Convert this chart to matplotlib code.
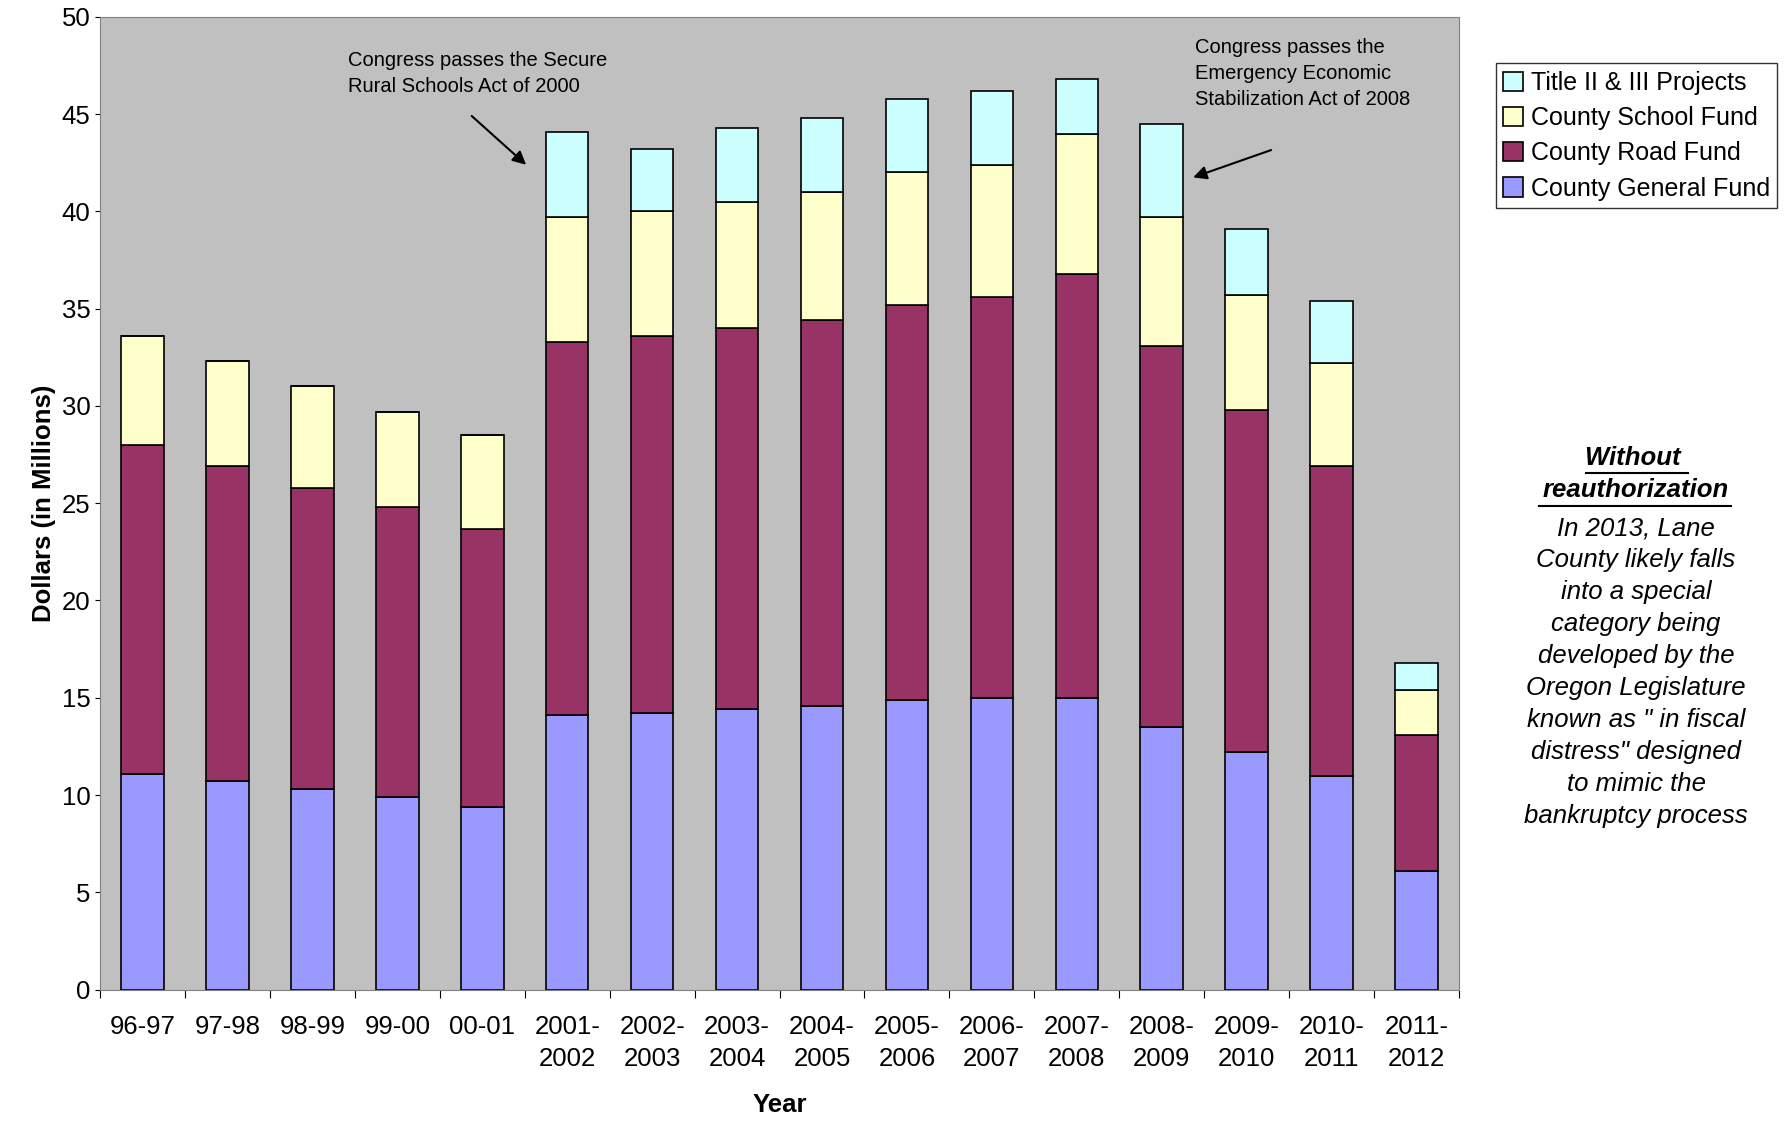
import matplotlib
matplotlib.use('Agg')
import matplotlib.pyplot as plt
import numpy as np

years = ['96-97', '97-98', '98-99', '99-00', '00-01', '2001-\n2002', '2002-\n2003', '2003-\n2004',
         '2004-\n2005', '2005-\n2006', '2006-\n2007', '2007-\n2008', '2008-\n2009', '2009-\n2010',
         '2010-\n2011', '2011-\n2012']
general = [11.1, 10.7, 10.3, 9.9, 9.4, 14.1, 14.2, 14.4, 14.6, 14.9, 15.0, 15.0, 13.5, 12.2, 11.0, 6.1]
road = [16.9, 16.2, 15.5, 14.9, 14.3, 19.2, 19.4, 19.6, 19.8, 20.3, 20.6, 21.8, 19.6, 17.6, 15.9, 7.0]
school = [5.6, 5.4, 5.2, 4.9, 4.8, 6.4, 6.4, 6.5, 6.6, 6.8, 6.8, 7.2, 6.6, 5.9, 5.3, 2.3]
title = [0, 0, 0, 0, 0, 4.4, 3.2, 3.8, 3.8, 3.8, 3.8, 2.8, 4.8, 3.4, 3.2, 1.4]

series = [('County General Fund', general, '#9999FF'),
          ('County Road Fund', road, '#993366'),
          ('County School Fund', school, '#FFFFCC'),
          ('Title II & III Projects', title, '#CCFFFF')]

FONT = 'Liberation Sans'
fig = plt.figure(figsize=(17.9, 11.22), dpi=100)
ax = fig.add_axes([0.056, 0.118, 0.759, 0.867])
ax.set_facecolor('#C0C0C0')
x = np.arange(len(years))
bottom = np.zeros(len(years))
handles = []
for name, vals, col in series:
    vals = np.array(vals)
    h = ax.bar(x, vals, 0.5, bottom=bottom, color=col, edgecolor='black', linewidth=1.2, label=name)
    handles.append(h)
    bottom += vals

ax.set_xlim(-0.5, len(years) - 0.5)
ax.set_ylim(0, 50)
ax.set_yticks(range(0, 51, 5))
ax.set_xticks(np.arange(-0.5, len(years), 1), minor=False)
ax.set_xticklabels([])
ax.set_xticks(x, minor=True)
ax.set_xticklabels(years, minor=True, fontsize=18.5, family=FONT, linespacing=1.45)
ax.tick_params(axis='x', which='minor', length=0, pad=18)
ax.tick_params(axis='x', which='major', length=6)
ax.tick_params(axis='y', labelsize=18.5)
for t in ax.get_yticklabels():
    t.set_family(FONT)
ax.set_xlabel('Year', fontsize=18.5, fontweight='bold', family=FONT, labelpad=16)
ax.set_ylabel('Dollars (in Millions)', fontsize=18.5, fontweight='bold', family=FONT)
for s in ax.spines.values():
    s.set_color('#808080')

ax.legend(handles[::-1], [s[0] for s in series][::-1], loc='upper left',
          bbox_to_anchor=(1.018, 0.965), frameon=True, fancybox=False,
          edgecolor='black', handlelength=0.8, handleheight=0.8, handletextpad=0.3,
          labelspacing=0.45, borderpad=0.3, prop={'family': FONT, 'size': 18})

ax.annotate('', xy=(4.54, 42.3), xytext=(3.85, 45.0),
            arrowprops=dict(arrowstyle='-|>', color='black', lw=1.5, mutation_scale=20))
ax.text(2.42, 47.1, 'Congress passes the Secure\nRural Schools Act of 2000', fontsize=14.5,
        family=FONT, va='center', linespacing=1.45)
ax.annotate('', xy=(12.34, 41.7), xytext=(13.32, 43.2),
            arrowprops=dict(arrowstyle='-|>', color='black', lw=1.5, mutation_scale=20))
ax.text(12.39, 47.1, 'Congress passes the\nEmergency Economic\nStabilization Act of 2008', fontsize=14.5,
        family=FONT, va='center', linespacing=1.45)

cx = 0.914
fig.text(cx, 0.592, 'Without ', fontsize=18.5, fontweight='bold', style='italic',
         ha='center', va='center', family=FONT)
fig.text(cx, 0.563, 'reauthorization', fontsize=18.5, fontweight='bold', style='italic',
         ha='center', va='center', family=FONT)
fig.lines.append(plt.Line2D([0.886, 0.943], [0.578, 0.578], transform=fig.transFigure, color='black', lw=1.5))
fig.lines.append(plt.Line2D([0.860, 0.967], [0.549, 0.549], transform=fig.transFigure, color='black', lw=1.5))
fig.text(cx, 0.401, 'In 2013, Lane\nCounty likely falls\ninto a special\ncategory being\ndeveloped by the\n'
         'Oregon Legislature\nknown as " in fiscal\ndistress" designed\nto mimic the\nbankruptcy process',
         fontsize=18.5, style='italic', ha='center', va='center', family=FONT, linespacing=1.42)

fig.savefig('out.png')
